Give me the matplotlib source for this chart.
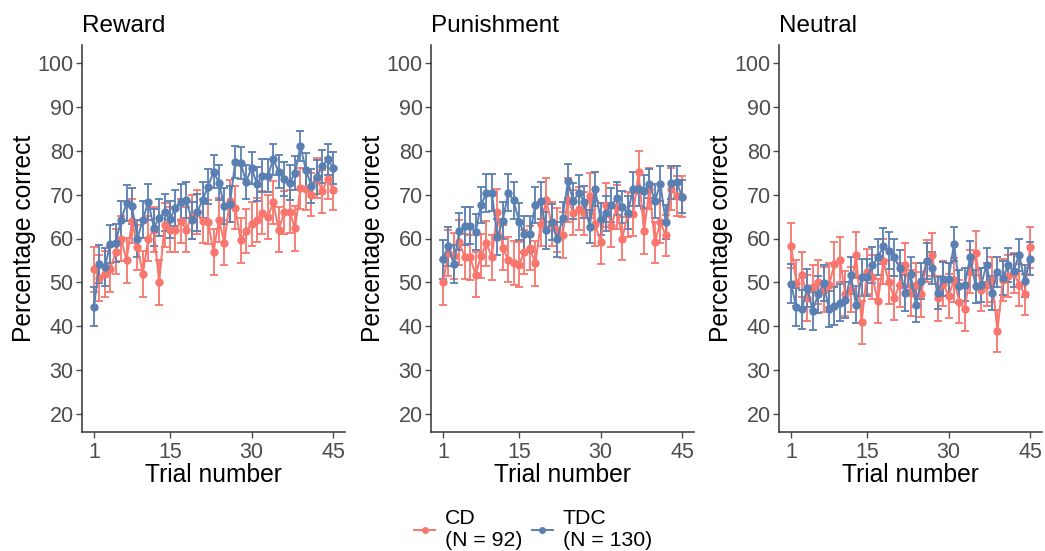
import matplotlib
matplotlib.use("Agg")
import matplotlib.pyplot as plt
from matplotlib.lines import Line2D
import numpy as np

plt.rcParams['font.family'] = ['Liberation Sans', 'DejaVu Sans']

trials = list(range(1, 46))
panels = ["Reward", "Punishment", "Neutral"]
groups = ["CD\n(N = 92)", "TDC\n(N = 130)"]
colors = ["#F8766D", "#5A7FB2"]

reward_cd = [53, 51, 52, 53, 57, 60, 55, 64, 58, 52, 60, 62, 50, 63, 62, 62, 64, 62, 65, 66,
             64, 63.7, 57, 64.2, 59, 68.6, 67, 59.6, 61.7, 63.2, 64.2, 65.9, 64.9, 68.2, 62,
             66, 66.1, 62.3, 71.4, 71.2, 70, 73.8, 70.7, 73.6, 71.1]
reward_tdc = [44.5, 54.2, 53.5, 58.7, 59, 64.3, 68, 67.3, 60, 64.3, 68.4, 62.5, 64.7, 66, 64.4,
              67, 68.4, 68.7, 64.2, 66, 68.8, 71.8, 75.2, 72.7, 67.3, 67.8, 77.4, 77.2, 72.9, 76,
              72.4, 74.3, 74.3, 78, 75.2, 73.5, 72.7, 74.9, 81, 75.6, 72, 74, 76.4, 78, 76]
punish_cd = [50, 56.7, 56, 59.1, 55.9, 55.7, 51.8, 56, 58.9, 55.7, 66.1, 57.9, 55.2, 54.4, 54,
             57, 57.8, 54.4, 63.4, 68.7, 63.2, 62, 60.8, 68.7, 65.9, 66.8, 65.7, 69.7, 63.4, 59.1,
             67.6, 62.9, 67.2, 60, 65.5, 65.5, 75.1, 61.6, 71.3, 59.1, 63.7, 60.7, 71.3, 69.7, 69.5]
punish_tdc = [55.3, 58.2, 54.2, 61.6, 62.9, 62.9, 61.4, 67.6, 70.4, 70.4, 60.3, 64, 70.4, 68.7, 63.8,
              61, 61, 67.6, 68.6, 61.9, 63.8, 59.8, 64.6, 73, 68.5, 70.4, 68.3, 62.7, 71.3, 64.4,
              65.7, 67.6, 69.1, 67.2, 65.9, 71.2, 71.2, 70.7, 72.5, 68.5, 72.5, 63.8, 72.7, 72.8, 69.5]
neutral_cd = [58.4, 49.9, 51.8, 46.5, 48.9, 50.1, 48.4, 49.4, 54.2, 55.2, 47.4, 48.4, 56.3, 40.9, 52.4,
              51.2, 45.7, 54.8, 50.1, 46.5, 49.5, 53.9, 47.6, 49.5, 47.3, 54.9, 56.3, 46.4, 49.7, 47,
              50.6, 45.6, 43.9, 52.4, 56.7, 48.4, 49.5, 50.6, 39, 50.6, 51.4, 52.1, 49.5, 47.3, 58]
neutral_tdc = [49.7, 44.4, 43.9, 48.8, 43.6, 47.3, 49.9, 43.9, 44.6, 45.4, 46.1, 51.6, 44.9, 51.2, 51.2,
               53.9, 55.7, 58.2, 57.2, 55.7, 53.3, 47.6, 52, 44.9, 50.4, 54.8, 53.3, 47.6, 50.8, 50.8,
               58.8, 49.1, 49.5, 55.9, 49.1, 49.5, 54, 47.6, 52.4, 51, 54, 52.7, 56.3, 50.4, 55.4]

cd_err = [5.1, 5.2, 5.2, 5.2, 5.1, 5.1, 5.2, 5.0, 5.1, 5.2, 5.1, 5.1, 5.2, 5.0, 5.1,
          5.0, 5.0, 5.1, 5.0, 5.0, 5.0, 5.0, 5.2, 5.0, 5.1, 4.8, 4.9, 5.1, 5.1, 5.0,
          5.0, 4.9, 5.0, 4.9, 5.1, 4.9, 4.9, 5.1, 4.7, 4.7, 4.8, 4.6, 4.8, 4.6, 4.7]
tdc_err = [4.4, 4.4, 4.4, 4.3, 4.3, 4.2, 4.1, 4.1, 4.3, 4.2, 4.1, 4.2, 4.2, 4.2, 4.2,
           4.1, 4.1, 4.1, 4.2, 4.2, 4.1, 4.0, 3.8, 3.9, 4.1, 4.1, 3.7, 3.7, 3.9, 3.7,
           3.9, 3.8, 3.8, 3.6, 3.8, 3.9, 3.9, 3.8, 3.4, 3.8, 3.9, 3.8, 3.7, 3.6, 3.7]

data = {
    "Reward": (reward_cd, reward_tdc),
    "Punishment": (punish_cd, punish_tdc),
    "Neutral": (neutral_cd, neutral_tdc),
}

W, H = 1045, 551
fig = plt.figure(figsize=(W / 100, H / 100), dpi=100)

lefts = [82, 431, 779]
ax_w = 263
ax_top, ax_bot = 45, 432
tick_gray = "#4D4D4D"

for left, name in zip(lefts, panels):
    ax = fig.add_axes([left / W, (H - ax_bot) / H, ax_w / W, (ax_bot - ax_top) / H])
    for vals, err, col in zip(data[name], (cd_err, tdc_err), colors):
        ax.errorbar(trials, vals, yerr=err, color=col, ecolor=col, elinewidth=1.3,
                    capsize=2.6, capthick=1.3, lw=1.4, marker='o', ms=5, alpha=1.0,
                    zorder=3)
    ax.set_xlim(-1.2, 47.2)
    ax.set_ylim(16, 104)
    ax.set_xticks([1, 15, 30, 45])
    ax.set_yticks(range(20, 101, 10))
    for s in ["top", "right"]:
        ax.spines[s].set_visible(False)
    for s in ["left", "bottom"]:
        ax.spines[s].set_color("#333333")
        ax.spines[s].set_linewidth(1.1)
    ax.tick_params(axis="both", colors=tick_gray, labelsize=15.5, length=4, width=1.0,
                   labelcolor=tick_gray, pad=2)
    ax.tick_params(axis="x", pad=3)
    ax.set_xlabel("Trial number", fontsize=17.7, labelpad=0)
    ax.set_ylabel("Percentage correct", fontsize=17.7, labelpad=1)
    ax.set_title(name, loc="left", fontsize=17.5, pad=9)

handles = [Line2D([0], [0], color=c, marker='o', ms=4, lw=1.4) for c in colors]
fig.legend(handles, groups, loc="lower center", bbox_to_anchor=(0.51, -0.033), ncol=2,
           frameon=False, fontsize=15.3, handlelength=1.0, handletextpad=0.45, columnspacing=0.45,
           labelspacing=0.2)

fig.savefig("out.png", dpi=100)
